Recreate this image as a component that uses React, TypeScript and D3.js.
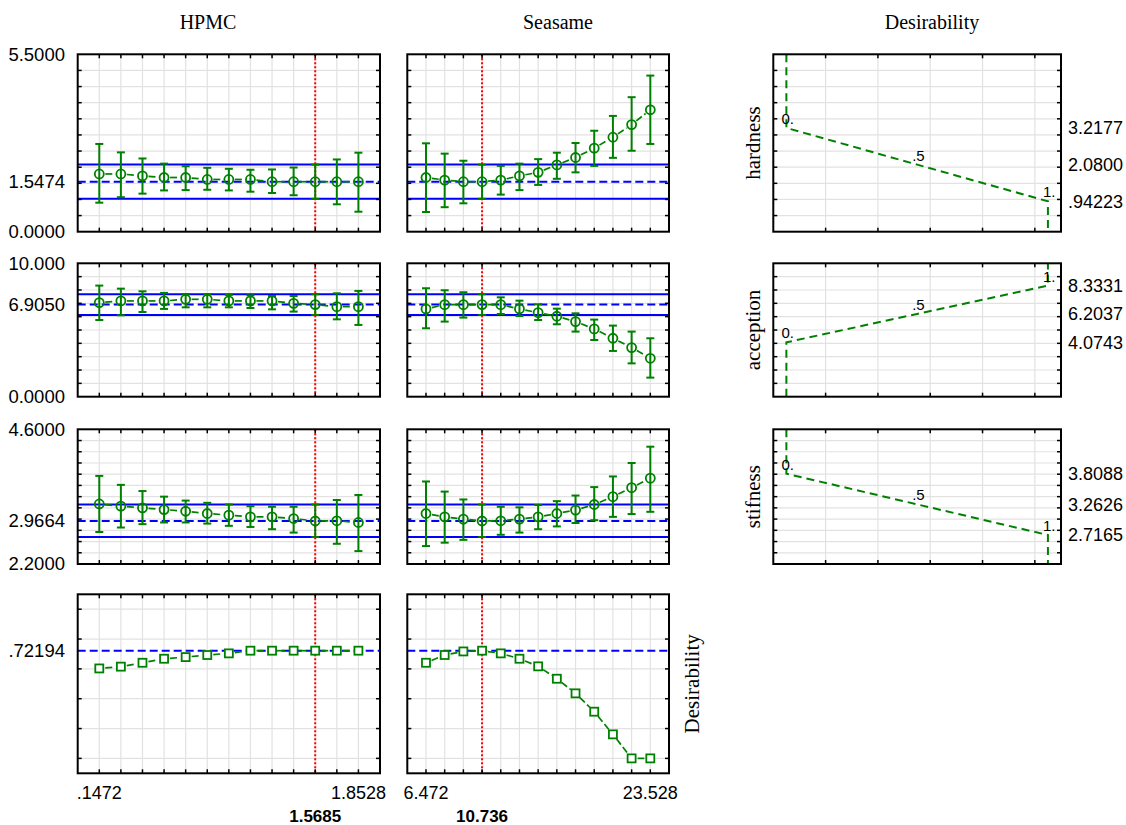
import React, { useEffect, useRef } from "react";
import * as d3 from "d3";

// --- factor levels (x axis of the profile panels)
const hpmcLevels = [0.1472, 0.2893, 0.4315, 0.5736, 0.7157, 0.8579, 1.0, 1.1421, 1.2843, 1.4264, 1.5685, 1.7107, 1.8528];
const seasameLevels = [6.472, 7.893, 9.315, 10.736, 12.157, 13.579, 15.0, 16.421, 17.843, 19.264, 20.685, 22.107, 23.528];
const hpmcCurrent = 1.5685;
const seasameCurrent = 10.736;
const hpmcTickLabels = [".1472", "1.8528", "1.5685"];
const seasameTickLabels = ["6.472", "23.528", "10.736"];

// --- hardness
const hardHpmc = [1.79, 1.79, 1.73, 1.68, 1.68, 1.62, 1.62, 1.62, 1.55, 1.55, 1.55, 1.55, 1.55];
const hardHpmcLo = [0.9, 1.07, 1.18, 1.28, 1.29, 1.3, 1.28, 1.24, 1.2, 1.13, 1.02, 0.85, 0.62];
const hardHpmcHi = [2.72, 2.46, 2.27, 2.11, 2.03, 1.98, 1.95, 1.92, 1.93, 1.99, 2.08, 2.24, 2.45];
const hardSeas = [1.68, 1.6, 1.55, 1.55, 1.6, 1.73, 1.84, 2.07, 2.3, 2.59, 2.93, 3.32, 3.78];
const hardSeasLo = [0.61, 0.76, 0.88, 1.02, 1.15, 1.29, 1.45, 1.64, 1.84, 2.04, 2.29, 2.51, 2.72];
const hardSeasHi = [2.74, 2.42, 2.2, 2.08, 2.04, 2.11, 2.25, 2.45, 2.75, 3.13, 3.59, 4.17, 4.84];
const hardCI = [1.02, 2.08];
const hardAxisValues = [5.5, 1.5474, 0];
const hardAxisLabels = ["5.5000", "1.5474", "0.0000"];
const hardDesValues = [3.2177, 2.08, 0.94223];
const hardDesLabels = ["3.2177", "2.0800", ".94223"];

// --- acception
const accHpmc = [7.05, 7.18, 7.18, 7.18, 7.3, 7.3, 7.18, 7.18, 7.18, 7.0, 6.905, 6.75, 6.75];
const accHpmcLo = [5.75, 6.1, 6.35, 6.58, 6.7, 6.7, 6.7, 6.65, 6.55, 6.38, 6.13, 5.8, 5.38];
const accHpmcHi = [8.33, 8.1, 7.9, 7.78, 7.7, 7.68, 7.63, 7.6, 7.55, 7.55, 7.68, 7.75, 7.93];
const accSeas = [6.58, 6.9, 6.9, 6.905, 6.9, 6.58, 6.3, 6.03, 5.63, 5.08, 4.38, 3.68, 2.88];
const accSeasLo = [5.13, 5.63, 5.93, 6.13, 6.2, 6.05, 5.75, 5.43, 4.88, 4.25, 3.43, 2.5, 1.43];
const accSeasHi = [8.13, 7.98, 7.83, 7.68, 7.45, 7.2, 6.93, 6.6, 6.25, 5.78, 5.33, 4.88, 4.38];
const accCI = [6.13, 7.68];
const accAxisValues = [10, 6.905, 0];
const accAxisLabels = ["10.000", "6.9050", "0.0000"];
const accDesValues = [4.0743, 6.2037, 8.3331];
const accDesLabels = ["4.0743", "6.2037", "8.3331"];

// --- stifness
const stifHpmc = [3.27, 3.23, 3.2, 3.17, 3.14, 3.1, 3.07, 3.04, 3.04, 3.01, 2.966, 2.97, 2.94];
const stifHpmcLo = [2.77, 2.85, 2.91, 2.94, 2.94, 2.92, 2.88, 2.86, 2.82, 2.76, 2.68, 2.56, 2.43];
const stifHpmcHi = [3.77, 3.61, 3.5, 3.4, 3.33, 3.29, 3.26, 3.23, 3.22, 3.22, 3.26, 3.34, 3.43];
const stifSeas = [3.1, 3.04, 3.0, 2.966, 2.97, 3.0, 3.04, 3.1, 3.16, 3.26, 3.4, 3.56, 3.73];
const stifSeasLo = [2.52, 2.58, 2.63, 2.68, 2.72, 2.76, 2.82, 2.87, 2.93, 2.98, 3.04, 3.09, 3.13];
const stifSeasHi = [3.67, 3.49, 3.35, 3.26, 3.22, 3.21, 3.25, 3.32, 3.42, 3.57, 3.76, 4.0, 4.29];
const stifCI = [2.68, 3.26];
const stifAxisValues = [4.6, 2.9664, 2.2];
const stifAxisLabels = ["4.6000", "2.9664", "2.2000"];
const stifDesValues = [3.8088, 3.2626, 2.7165];
const stifDesLabels = ["3.8088", "3.2626", "2.7165"];

// --- overall desirability
const desHpmc = [0.603, 0.615, 0.641, 0.668, 0.679, 0.693, 0.704, 0.722, 0.722, 0.722, 0.722, 0.722, 0.722];
const desSeas = [0.641, 0.693, 0.717, 0.722, 0.704, 0.668, 0.617, 0.534, 0.436, 0.313, 0.161, 0.0, 0.0];
const desAxisValues = [0.72194];
const desAxisLabels = [".72194"];

// desirability function columns
const desLevels = [0, 0.5, 1];
const desLevelLabels = ["0.", ".5", "1."];
const desGrid = [0.15, 0.35, 0.55, 0.75, 0.95];

const SANS = "'Liberation Sans', Arial, sans-serif";
const SERIF = "'Liberation Serif', 'Times New Roman', serif";
const GREEN = "#008000";
const BLUE = "#0000ff";
const RED = "#ff0000";
const GRID = "#e2e2e2";

// panel boxes (pixels)
const colX = [[77.7, 380], [407.3, 669]];
const desX = [773.3, 1061];
const rowY = [[54.3, 231.7], [263.3, 396.7], [429.3, 564], [594.3, 773.3]];

const responses = [
    {
        name: "hardness", domain: [0, 5.5], step: 0.5, current: 1.5474, ci: hardCI,
        axisValues: hardAxisValues, axisLabels: hardAxisLabels,
        series: [[hardHpmc, hardHpmcLo, hardHpmcHi], [hardSeas, hardSeasLo, hardSeasHi]],
        desValues: hardDesValues, desLabels: hardDesLabels,
    },
    {
        name: "acception", domain: [0, 10], step: 1, current: 6.905, ci: accCI,
        axisValues: accAxisValues, axisLabels: accAxisLabels,
        series: [[accHpmc, accHpmcLo, accHpmcHi], [accSeas, accSeasLo, accSeasHi]],
        desValues: accDesValues, desLabels: accDesLabels,
    },
    {
        name: "stifness", domain: [2.2, 4.6], step: 0.2, current: 2.9664, ci: stifCI,
        axisValues: stifAxisValues, axisLabels: stifAxisLabels,
        series: [[stifHpmc, stifHpmcLo, stifHpmcHi], [stifSeas, stifSeasLo, stifSeasHi]],
        desValues: stifDesValues, desLabels: stifDesLabels,
    },
    {
        name: "Desirability", domain: [-0.1, 1.1], step: 0.2, current: 0.72194, ci: null,
        axisValues: desAxisValues, axisLabels: desAxisLabels,
        series: [[desHpmc], [desSeas]],
        desValues: null, desLabels: null,
    },
];

const gridValues = (domain, step) => {
    const start = Math.ceil((domain[0] + 1e-6) / step) * step;
    return d3.range(start, domain[1] - step / 4, step);
};

function drawGrid(g, x, y, xt, yt) {
    const [x0, x1] = x.range();
    const [y0, y1] = y.range();
    g.append("g").selectAll("line").data(xt).join("line")
        .attr("x1", d => x(d)).attr("x2", d => x(d))
        .attr("y1", y1).attr("y2", y0)
        .attr("stroke", GRID).attr("stroke-width", 1.2);
    g.append("g").selectAll("line").data(yt).join("line")
        .attr("y1", d => y(d)).attr("y2", d => y(d))
        .attr("x1", x0).attr("x2", x1)
        .attr("stroke", GRID).attr("stroke-width", 1.2);
}

function drawBorder(g, x, y, xt, yt) {
    const [x0, x1] = x.range();
    const [y0, y1] = y.range();
    const T = 4;
    const ticks = g.append("g").attr("stroke", "#000").attr("stroke-width", 1.5);
    xt.forEach(v => {
        ticks.append("line").attr("x1", x(v)).attr("x2", x(v)).attr("y1", y1).attr("y2", y1 + T);
        ticks.append("line").attr("x1", x(v)).attr("x2", x(v)).attr("y1", y0).attr("y2", y0 - T);
    });
    yt.forEach(v => {
        ticks.append("line").attr("y1", y(v)).attr("y2", y(v)).attr("x1", x0).attr("x2", x0 + T);
        ticks.append("line").attr("y1", y(v)).attr("y2", y(v)).attr("x1", x1).attr("x2", x1 - T);
    });
    g.append("rect")
        .attr("x", x0).attr("y", y1)
        .attr("width", x1 - x0).attr("height", y0 - y1)
        .attr("fill", "none").attr("stroke", "#000").attr("stroke-width", 2);
}

function drawProfile(svg, box, levels, current, resp, series, square) {
    const stepX = levels[1] - levels[0];
    const x = d3.scaleLinear()
        .domain([levels[0] - stepX, levels[levels.length - 1] + stepX])
        .range(box.x);
    const y = d3.scaleLinear().domain(resp.domain).range([box.y[1], box.y[0]]);
    const yt = gridValues(resp.domain, resp.step);
    const g = svg.append("g");
    drawGrid(g, x, y, levels, yt);

    // reference lines at the current prediction
    g.append("line")
        .attr("x1", box.x[0]).attr("x2", box.x[1])
        .attr("y1", y(resp.current)).attr("y2", y(resp.current))
        .attr("stroke", BLUE).attr("stroke-width", 2).attr("stroke-dasharray", "8,4");
    if (resp.ci) {
        resp.ci.forEach(v => {
            g.append("line")
                .attr("x1", box.x[0]).attr("x2", box.x[1])
                .attr("y1", y(v)).attr("y2", y(v))
                .attr("stroke", BLUE).attr("stroke-width", 2);
        });
    }
    g.append("line")
        .attr("x1", x(current)).attr("x2", x(current))
        .attr("y1", box.y[0]).attr("y2", box.y[1])
        .attr("stroke", RED).attr("stroke-width", 2).attr("stroke-dasharray", "2,2");

    const [mean, lo, hi] = series;
    const pts = levels.map((lv, i) => [x(lv), y(mean[i])]);

    // connecting dashed segments, stopped at marker edges
    const gap = 6;
    for (let i = 0; i < pts.length - 1; i++) {
        const [ax, ay] = pts[i];
        const [bx, by] = pts[i + 1];
        const len = Math.hypot(bx - ax, by - ay);
        if (len <= gap * 2) continue;
        const ux = (bx - ax) / len, uy = (by - ay) / len;
        g.append("line")
            .attr("x1", ax + ux * gap).attr("y1", ay + uy * gap)
            .attr("x2", bx - ux * gap).attr("y2", by - uy * gap)
            .attr("stroke", GREEN).attr("stroke-width", 1.7).attr("stroke-dasharray", "7,3");
    }

    if (lo && hi) {
        const eb = g.append("g").attr("stroke", GREEN).attr("stroke-width", 2);
        levels.forEach((lv, i) => {
            const cx = x(lv);
            eb.append("line").attr("x1", cx).attr("x2", cx).attr("y1", y(lo[i])).attr("y2", y(hi[i]));
            eb.append("line").attr("x1", cx - 4).attr("x2", cx + 4).attr("y1", y(lo[i])).attr("y2", y(lo[i]));
            eb.append("line").attr("x1", cx - 4).attr("x2", cx + 4).attr("y1", y(hi[i])).attr("y2", y(hi[i]));
        });
    }

    if (square) {
        g.append("g").selectAll("rect").data(pts).join("rect")
            .attr("x", d => d[0] - 4).attr("y", d => d[1] - 4)
            .attr("width", 8).attr("height", 8)
            .attr("fill", "#fff").attr("stroke", GREEN).attr("stroke-width", 1.8);
    } else {
        g.append("g").selectAll("circle").data(pts).join("circle")
            .attr("cx", d => d[0]).attr("cy", d => d[1]).attr("r", 4.5)
            .attr("fill", "none").attr("stroke", GREEN).attr("stroke-width", 1.8);
    }

    drawBorder(g, x, y, levels, yt);
    return { x, y };
}

function drawDesirability(svg, box, resp) {
    const x = d3.scaleLinear().domain([-0.05, 1.05]).range(box.x);
    const y = d3.scaleLinear().domain(resp.domain).range([box.y[1], box.y[0]]);
    const yt = gridValues(resp.domain, resp.step);
    const g = svg.append("g");
    drawGrid(g, x, y, desGrid, yt);

    const [v0, vMid, v1] = resp.desValues;
    const zeroEdge = v0 > v1 ? resp.domain[1] : resp.domain[0];
    const oneEdge = v0 > v1 ? resp.domain[0] : resp.domain[1];
    const pts = [[0, zeroEdge], [0, v0], [desLevels[1], vMid], [1, v1], [1, oneEdge]];
    g.append("path")
        .attr("d", d3.line().x(d => x(d[0])).y(d => y(d[1]))(pts))
        .attr("fill", "none").attr("stroke", GREEN).attr("stroke-width", 2)
        .attr("stroke-dasharray", "8,5");

    g.append("g").selectAll("text").data(desLevels).join("text")
        .attr("x", (d) => x(d) - 5)
        .attr("y", (d, i) => y(resp.desValues[i]) - 4)
        .attr("font-family", SANS).attr("font-size", 15)
        .text((d, i) => desLevelLabels[i]);

    drawBorder(g, x, y, desGrid, yt);

    g.append("g").selectAll("text").data(resp.desValues).join("text")
        .attr("x", box.x[1] + 7)
        .attr("y", d => y(d))
        .attr("dy", "0.35em")
        .attr("font-family", SANS).attr("font-size", 18)
        .text((d, i) => resp.desLabels[i]);

    svg.append("text")
        .attr("transform", `translate(753,${(box.y[0] + box.y[1]) / 2}) rotate(-90)`)
        .attr("text-anchor", "middle").attr("dy", "0.35em")
        .attr("font-family", SERIF).attr("font-size", 21)
        .text(resp.name);
}

const App = () => {
    const svgRef = useRef(null);

    useEffect(() => {
        const svg = d3.select(svgRef.current);
        svg.selectAll("*").remove();

        const cols = [
            { levels: hpmcLevels, current: hpmcCurrent, labels: hpmcTickLabels },
            { levels: seasameLevels, current: seasameCurrent, labels: seasameTickLabels },
        ];

        responses.forEach((resp, r) => {
            const yb = rowY[r];
            cols.forEach((c, ci) => {
                const box = { x: colX[ci], y: yb };
                const s = resp.series[ci];
                const { x, y } = drawProfile(svg, box, c.levels, c.current, resp, s, r === 3);

                if (ci === 0) {
                    svg.append("g").selectAll("text").data(resp.axisValues).join("text")
                        .attr("x", 65).attr("y", d => y(d)).attr("dy", "0.35em")
                        .attr("text-anchor", "end")
                        .attr("font-family", SANS).attr("font-size", 18.5)
                        .text((d, i) => resp.axisLabels[i]);
                }
                if (r === 3) {
                    const first = c.levels[0];
                    const last = c.levels[c.levels.length - 1];
                    [first, last].forEach((v, i) => {
                        svg.append("text")
                            .attr("x", x(v)).attr("y", 793).attr("dy", "0.35em")
                            .attr("text-anchor", "middle")
                            .attr("font-family", SANS).attr("font-size", 18)
                            .text(c.labels[i]);
                    });
                    svg.append("text")
                        .attr("x", x(c.current)).attr("y", 816).attr("dy", "0.35em")
                        .attr("text-anchor", "middle")
                        .attr("font-family", SANS).attr("font-size", 17).attr("font-weight", "bold")
                        .text(c.labels[2]);
                }
            });
            if (resp.desValues) {
                drawDesirability(svg, { x: desX, y: yb }, resp);
            } else {
                svg.append("text")
                    .attr("transform", `translate(692,${(yb[0] + yb[1]) / 2}) rotate(-90)`)
                    .attr("text-anchor", "middle").attr("dy", "0.35em")
                    .attr("font-family", SERIF).attr("font-size", 21)
                    .text(resp.name);
            }
        });

        // column titles
        const titles = [["HPMC", 208], ["Seasame", 558], ["Desirability", 932]];
        svg.append("g").selectAll("text").data(titles).join("text")
            .attr("x", d => d[1]).attr("y", 22).attr("dy", "0.35em")
            .attr("text-anchor", "middle")
            .attr("font-family", SERIF).attr("font-size", 20)
            .text(d => d[0]);
    }, []);

    return (
        <svg
            ref={svgRef}
            width={1126}
            height={825}
            style={{ position: "absolute", left: 0, top: 0, background: "#fff" }}
        />
    );
};

export default App;
